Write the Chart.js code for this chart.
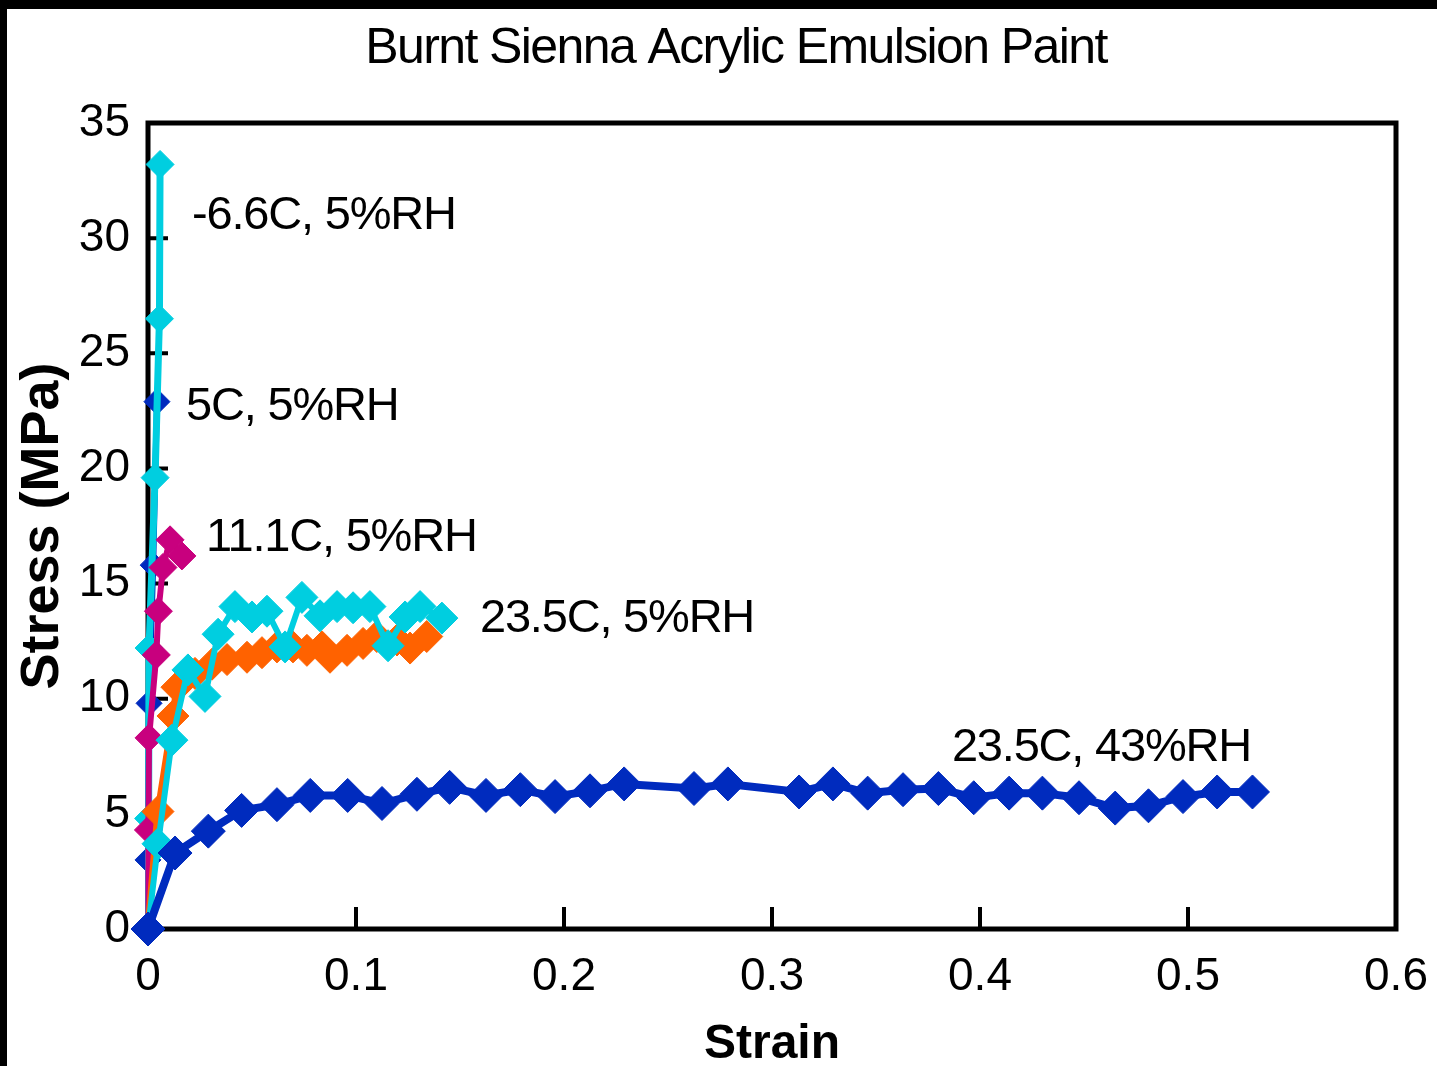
<!DOCTYPE html>
<html>
<head>
<meta charset="utf-8">
<script src="https://cdn.jsdelivr.net/npm/chart.js@4/dist/chart.umd.min.js"></script>
<style>
  html, body { margin: 0; padding: 0; background: #000; width: 1437px; height: 1066px; overflow: hidden; }
  #wrap { position: absolute; left: 7px; top: 9px; width: 1430px; height: 1057px; background: #fff; }
</style>
</head>
<body>
<div id="wrap"><canvas id="c"></canvas></div>
<script>
// ---- data (strain, stress in MPa) ----
const titleText = 'Burnt Sienna Acrylic Emulsion Paint';
const xTickLabels = ['0', '0.1', '0.2', '0.3', '0.4', '0.5', '0.6'];
const yTickLabels = ['0', '5', '10', '15', '20', '25', '30', '35'];

const strainM66 = [0, 0.0003, 0.0005, 0.0034, 0.0055, 0.0058];
const stressM66 = [0, 4.8, 12.2, 19.6, 26.5, 33.2];

const strain5C = [0, 0, 0.0005, 0.0025, 0.0043];
const stress5C = [0, 3.0, 9.8, 15.8, 22.9];

const strain111 = [0, 0.0002, 0.0005, 0.004, 0.005, 0.0072, 0.0106, 0.0163];
const stress111 = [0, 4.3, 8.3, 11.9, 13.8, 15.7, 16.9, 16.2];

const strain235a = [0, 0.0048, 0.012, 0.0139, 0.0226, 0.0308, 0.038, 0.0476, 0.0548, 0.062, 0.0697, 0.0764, 0.0837, 0.0875, 0.0957, 0.1034, 0.110, 0.1197, 0.126, 0.134];
const stress235a = [0, 5.1, 9.25, 10.5, 11.1, 11.5, 11.7, 11.8, 12.0, 12.25, 12.25, 12.1, 12.25, 11.8, 12.1, 12.4, 12.7, 12.55, 12.2, 12.7];

const strain235b = [0, 0.0048, 0.0115, 0.0192, 0.0274, 0.0337, 0.0418, 0.05, 0.0572, 0.0659, 0.074, 0.0827, 0.0909, 0.0986, 0.1067, 0.1154, 0.1236, 0.1308, 0.1413];
const stress235b = [0, 3.7, 8.2, 11.25, 10.1, 12.8, 14.0, 13.55, 13.8, 12.25, 14.4, 13.6, 14.0, 13.95, 14.0, 12.3, 13.55, 14.0, 13.5];

const strain43 = [0, 0.013, 0.029, 0.045, 0.062, 0.078, 0.096, 0.1125, 0.1293, 0.145, 0.1625, 0.179, 0.1957, 0.2125, 0.2289, 0.2625, 0.2788, 0.313, 0.3293, 0.346, 0.363, 0.380, 0.397, 0.414, 0.430, 0.4476, 0.465, 0.481, 0.4976, 0.514, 0.531];
const stress43 = [0, 3.3, 4.25, 5.15, 5.4, 5.8, 5.8, 5.45, 5.85, 6.15, 5.8, 6.05, 5.75, 6.0, 6.3, 6.1, 6.3, 5.95, 6.3, 5.9, 6.05, 6.1, 5.7, 5.9, 5.9, 5.7, 5.25, 5.35, 5.75, 5.95, 5.95];

// series label texts and their anchor (in data units)
const seriesLabels = ['-6.6C, 5%RH', '5C, 5%RH', '11.1C, 5%RH', '23.5C, 5%RH', '23.5C, 43%RH'];
const labelStrain = [0.0212, 0.0183, 0.0279, 0.1596, 0.3865];
const labelStress = [31.1, 22.8, 17.1, 13.6, 8.0];

// ---- styling ----
const CYAN = '#00CEE0', BLUE = '#002BBE', MAGENTA = '#C8007E', ORANGE = '#FF6200';
const FONT = '"Liberation Sans", Arial, sans-serif';

function pts(xs, ys) { return xs.map((x, i) => ({ x: x, y: ys[i] })); }
function ds(label, xs, ys, color, r, lw) {
  return {
    label: label, data: pts(xs, ys), showLine: true,
    borderColor: color, backgroundColor: color,
    pointBackgroundColor: color, pointBorderColor: color,
    pointStyle: 'rectRot', pointRadius: r, pointBorderWidth: 1,
    borderWidth: lw, tension: 0, clip: false
  };
}

const framePlugin = {
  id: 'frame',
  beforeDatasetsDraw(chart) {
    const { ctx, chartArea: a, scales: { x, y } } = chart;
    ctx.save();
    ctx.strokeStyle = '#000';
    ctx.lineWidth = 5;
    ctx.strokeRect(a.left, a.top, a.right - a.left, a.bottom - a.top);
    ctx.lineWidth = 4;
    ctx.beginPath();
    y.ticks.forEach(t => { const py = y.getPixelForValue(t.value); ctx.moveTo(a.left, py); ctx.lineTo(a.left + 20, py); });
    x.ticks.forEach(t => { const px = x.getPixelForValue(t.value); ctx.moveTo(px, a.bottom); ctx.lineTo(px, a.bottom - 22); });
    ctx.stroke();
    ctx.restore();
  },
  afterDraw(chart) {
    const { ctx, scales: { x, y } } = chart;
    ctx.save();
    ctx.fillStyle = '#000';
    ctx.textBaseline = 'middle';
    ctx.textAlign = 'center';
    ctx.font = '50px ' + FONT;
    ctx.letterSpacing = '-1.6px';
    ctx.fillText(titleText, 729, 40);
    ctx.textAlign = 'left';
    ctx.font = '47px ' + FONT;
    ctx.letterSpacing = '-1.2px';
    seriesLabels.forEach((s, i) => {
      ctx.fillText(s, x.getPixelForValue(labelStrain[i]), y.getPixelForValue(labelStress[i]) + 3);
    });
    ctx.restore();
  }
};

new Chart(document.getElementById('c'), {
  type: 'scatter',
  data: {
    datasets: [
      ds('23.5C, 43%RH', strain43, stress43, BLUE, 17, 8),
      ds('23.5C, 5%RH (b)', strain235b, stress235b, CYAN, 16, 6),
      ds('23.5C, 5%RH (a)', strain235a, stress235a, ORANGE, 16, 7),
      ds('11.1C, 5%RH', strain111, stress111, MAGENTA, 14, 6),
      ds('-6.6C, 5%RH', strainM66, stressM66, CYAN, 14, 7),
      ds('5C, 5%RH', strain5C, stress5C, BLUE, 13, 6)
    ]
  },
  options: {
    responsive: true, maintainAspectRatio: false, devicePixelRatio: 1, animation: false,
    layout: { padding: { top: 114, right: 41, left: 0, bottom: 0 } },
    plugins: { legend: { display: false }, tooltip: { enabled: false }, title: { display: false } },
    scales: {
      x: {
        type: 'linear', min: 0, max: 0.6,
        afterFit: s => { s.height = 137; s.paddingLeft = 0; s.paddingRight = 0; },
        afterBuildTicks: s => { s.ticks = xTickLabels.map(v => ({ value: parseFloat(v) })); },
        grid: { display: false, drawTicks: false }, border: { display: false },
        ticks: { color: '#000', padding: 21, font: { family: FONT, size: 46 }, maxRotation: 0,
                 callback: (v, i) => xTickLabels[i] },
        title: { display: true, text: 'Strain', color: '#000', padding: { top: 0, bottom: 0 },
                 font: { family: FONT, size: 48, weight: 'bold', lineHeight: 0.9 } }
      },
      y: {
        type: 'linear', min: 0, max: 35,
        afterFit: s => { s.width = 141; s.paddingTop = 0; s.paddingBottom = 0; },
        afterBuildTicks: s => { s.ticks = yTickLabels.map(v => ({ value: parseFloat(v) })); },
        grid: { display: false, drawTicks: false }, border: { display: false },
        ticks: { color: '#000', padding: 18, font: { family: FONT, size: 46 },
                 callback: (v, i) => yTickLabels[i] },
        title: { display: true, text: 'Stress (MPa)', color: '#000', padding: { top: 9, bottom: 0 },
                 font: { family: FONT, size: 54, weight: 'bold', lineHeight: 1.0 } }
      }
    }
  },
  plugins: [framePlugin]
});
</script>
</body>
</html>
